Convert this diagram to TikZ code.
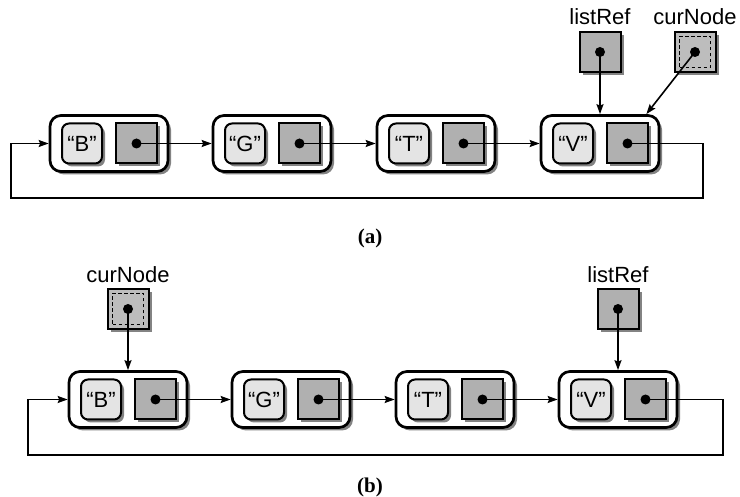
\documentclass[tikz,border=0pt]{standalone}
\usepackage{fontspec}
\setmainfont{Liberation Sans}
\newfontfamily\capfont{Liberation Serif}
\usetikzlibrary{shadows,arrows.meta}
\definecolor{lightfill}{HTML}{E4E4E4}
\definecolor{ptrfill}{HTML}{B0B0B0}
\definecolor{curfill}{HTML}{BDBDBD}
\begin{document}
\begin{tikzpicture}[x=1pt,y=-1pt,
  shd/.style={drop shadow={shadow xshift=3pt,shadow yshift=-3pt,fill=black!65,opacity=0.75}},
  outerbox/.style={draw,line width=2.7pt,fill=white,rounded corners=11pt,minimum width=118pt,minimum height=56pt,inner sep=0pt,shd},
  textbox/.style={draw,line width=2pt,fill=lightfill,rounded corners=7pt,minimum width=40pt,minimum height=40pt,inner sep=0pt,font=\fontsize{22}{26}\selectfont,shd},
  ptrbox/.style={draw,line width=2pt,fill=ptrfill,minimum width=41pt,minimum height=40pt,inner sep=0pt,shd},
  curbox/.style={ptrbox,fill=curfill},
  innerdash/.style={draw,line width=1.4pt,dash pattern=on 3.5pt off 2.5pt,minimum size=31pt,inner sep=0pt},
  lbl/.style={font=\fontsize{22}{26}\selectfont,anchor=base,inner sep=0pt},
  captxt/.style={font=\capfont\bfseries\fontsize{21}{25}\selectfont,anchor=base,inner sep=0pt},
  arr/.style={line width=1.6pt,-{Stealth[length=10pt,width=7pt,inset=1.5pt]}},
  dot/.style={circle,fill=black,minimum size=10pt,inner sep=0pt}
]
\path[use as bounding box] (0,0) rectangle (740,497);

% ---------- (a) ----------
\foreach \i/\t/\x in {1/B/109,2/G/272,3/T/436,4/V/600} {
  \node[outerbox] (a\i) at (\x,143.5) {};
  \node[textbox] (at\i) at (\x-27,143.5) {“\t”};
  \node[ptrbox] (ap\i) at (\x+27.5,143.5) {};
  \node[dot] (ad\i) at (ap\i.center) {};
}
\draw[arr] (ad1.center) -- (a2.west);
\draw[arr] (ad2.center) -- (a3.west);
\draw[arr] (ad3.center) -- (a4.west);
\coordinate (aR) at (703,198);
\coordinate (aL) at (11,198);
\draw[arr] (ad4.center) -| (aR) -- (aL) |- (a1.west);

\node[ptrbox] (alr) at (600,52) {};
\node[dot] (alrd) at (alr.center) {};
\node[lbl] (alrl) at (600,25) {listRef};
\draw[arr] (alrd.center) -- (alr.center |- a4.north);

\node[curbox] (acn) at (695,52) {};
\node[innerdash] (acnd) at (acn.center) {};
\node[dot] (acndot) at (acn.center) {};
\node[lbl] (acnl) at (695,25) {curNode};
\coordinate (acnT) at ([xshift=-14pt]a4.north east);
\draw[arr] (acndot.center) -- (acnT);

\node[captxt] (capa) at (370,244) {(a)};

% ---------- (b) ----------
\foreach \i/\t/\x in {1/B/128,2/G/291,3/T/455,4/V/618} {
  \node[outerbox] (b\i) at (\x,399.5) {};
  \node[textbox] (bt\i) at (\x-27,399.5) {“\t”};
  \node[ptrbox] (bp\i) at (\x+27.5,399.5) {};
  \node[dot] (bd\i) at (bp\i.center) {};
}
\draw[arr] (bd1.center) -- (b2.west);
\draw[arr] (bd2.center) -- (b3.west);
\draw[arr] (bd3.center) -- (b4.west);
\coordinate (bR) at (723,455);
\coordinate (bL) at (28,455);
\draw[arr] (bd4.center) -| (bR) -- (bL) |- (b1.west);

\node[curbox] (bcn) at (128,309) {};
\node[innerdash] (bcnd) at (bcn.center) {};
\node[dot] (bcndot) at (bcn.center) {};
\node[lbl] (bcnl) at (128,283) {curNode};
\draw[arr] (bcndot.center) -- (bcn.center |- b1.north);

\node[ptrbox] (blr) at (618,309) {};
\node[dot] (blrd) at (blr.center) {};
\node[lbl] (blrl) at (618,283) {listRef};
\draw[arr] (blrd.center) -- (blr.center |- b4.north);

\node[captxt] (capb) at (370,492) {(b)};
\end{tikzpicture}
\end{document}
